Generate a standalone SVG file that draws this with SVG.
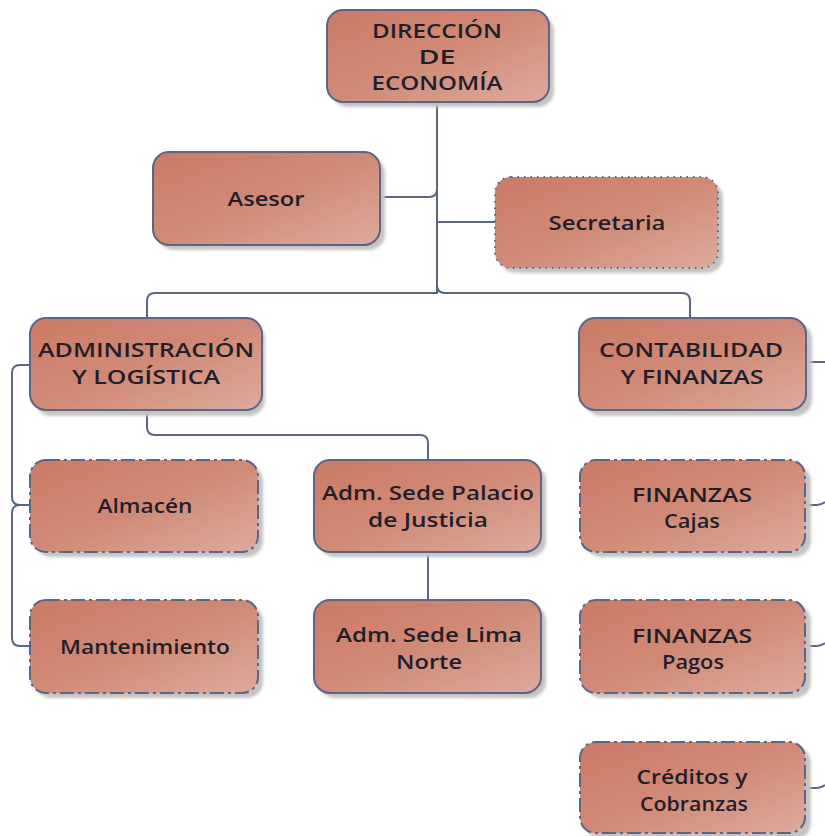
<svg xmlns="http://www.w3.org/2000/svg" width="825" height="836" viewBox="0 0 825 836">
<defs>
<linearGradient id="g" x1="0" y1="0" x2="1" y2="1">
<stop offset="0" stop-color="#cb7a66"/>
<stop offset="0.5" stop-color="#d08a77"/>
<stop offset="1" stop-color="#dcab9e"/>
</linearGradient>
<filter id="blur" x="-10%" y="-10%" width="120%" height="120%"><feGaussianBlur stdDeviation="1.5"/></filter>
<style>
.sh{fill:#c4c4c4;filter:url(#blur)}
.bx{fill:url(#g);stroke:#5b6586;stroke-width:2}
.dot{stroke-dasharray:1.5 5}
.dd{stroke-dasharray:14 4 3 4}
.t{font-family:"Open Sans","Liberation Sans",Arial,sans-serif;font-weight:600;font-size:19px;fill:#1f1f2c;text-anchor:middle}
.c{fill:none;stroke:#5b6586;stroke-width:2}
</style>
</defs>
<rect width="825" height="836" fill="#ffffff"/>
<g id="connectors">
<path class="c" d="M437,102 V293 H155 Q147,293 147,301 V318"/>
<path class="c" d="M437,285 Q437,293 445,293 H682 Q690,293 690,301 V318"/>
<path class="c" d="M380,197 H429 Q437,197 437,189"/>
<path class="c" d="M437,222 H495"/>
<path class="c" d="M30,365 H20 Q12,365 12,373 V497 Q12,505 20,505 H30"/>
<path class="c" d="M20,505 Q12,505 12,513 V638 Q12,646 20,646 H30"/>
<path class="c" d="M147,410 V427 Q147,435 155,435 H420 Q428,435 428,443 V460"/>
<path class="c" d="M428,552 V600"/>
<path class="c" d="M805,362 H825"/>
<path class="c" d="M805,505 H817 Q821,505 825,502"/>
<path class="c" d="M805,646 H817 Q821,646 825,643"/>
<path class="c" d="M805,788 H817 Q821,788 825,785"/>
</g>
<g id="direccion">
<rect class="sh" x="332" y="15" width="222" height="92" rx="16"/>
<rect class="bx" x="327" y="10" width="222" height="92" rx="16"/>
<text class="t" x="437" y="38" textLength="130" lengthAdjust="spacingAndGlyphs">DIRECCIÓN</text>
<text class="t" x="437" y="64" textLength="37" lengthAdjust="spacingAndGlyphs">DE</text>
<text class="t" x="437" y="90" textLength="131" lengthAdjust="spacingAndGlyphs">ECONOMÍA</text>
</g>
<g id="asesor">
<rect class="sh" x="158" y="157" width="227" height="93" rx="16"/>
<rect class="bx" x="153" y="152" width="227" height="93" rx="16"/>
<text class="t" x="266" y="206" textLength="77" lengthAdjust="spacingAndGlyphs">Asesor</text>
</g>
<g id="secretaria">
<rect class="sh" x="500" y="182" width="223" height="91" rx="16"/>
<rect class="bx dot" x="495" y="177" width="223" height="91" rx="16"/>
<text class="t" x="607" y="230" textLength="117" lengthAdjust="spacingAndGlyphs">Secretaria</text>
</g>
<g id="administracion">
<rect class="sh" x="35" y="323" width="230" height="93" rx="16"/>
<rect class="bx" x="30" y="318" width="232" height="92" rx="16"/>
<text class="t" x="146" y="357" textLength="216" lengthAdjust="spacingAndGlyphs">ADMINISTRACIÓN</text>
<text class="t" x="146" y="384" textLength="148" lengthAdjust="spacingAndGlyphs">Y LOGÍSTICA</text>
</g>
<g id="contabilidad">
<rect class="sh" x="585" y="323" width="227" height="93" rx="16"/>
<rect class="bx" x="579" y="318" width="227" height="92" rx="16"/>
<text class="t" x="691" y="357" textLength="184" lengthAdjust="spacingAndGlyphs">CONTABILIDAD</text>
<text class="t" x="692" y="384" textLength="143" lengthAdjust="spacingAndGlyphs">Y FINANZAS</text>
</g>
<g id="almacen">
<rect class="sh" x="35" y="465" width="228" height="92" rx="16"/>
<rect class="bx dd" x="30" y="460" width="228" height="92" rx="16"/>
<text class="t" x="145" y="513" textLength="95" lengthAdjust="spacingAndGlyphs">Almacén</text>
</g>
<g id="mantenimiento">
<rect class="sh" x="35" y="605" width="228" height="93" rx="16"/>
<rect class="bx dd" x="30" y="600" width="228" height="93" rx="16"/>
<text class="t" x="145" y="654" textLength="170" lengthAdjust="spacingAndGlyphs">Mantenimiento</text>
</g>
<g id="palacio">
<rect class="sh" x="319" y="465" width="227" height="92" rx="16"/>
<rect class="bx" x="314" y="460" width="227" height="92" rx="16"/>
<text class="t" x="428" y="500" textLength="212" lengthAdjust="spacingAndGlyphs">Adm. Sede Palacio</text>
<text class="t" x="428" y="527" textLength="120" lengthAdjust="spacingAndGlyphs">de Justicia</text>
</g>
<g id="limanorte">
<rect class="sh" x="319" y="605" width="227" height="93" rx="16"/>
<rect class="bx" x="314" y="600" width="227" height="93" rx="16"/>
<text class="t" x="429" y="642" textLength="186" lengthAdjust="spacingAndGlyphs">Adm. Sede Lima</text>
<text class="t" x="429" y="669" textLength="66" lengthAdjust="spacingAndGlyphs">Norte</text>
</g>
<g id="cajas">
<rect class="sh" x="585" y="465" width="226" height="92" rx="16"/>
<rect class="bx dd" x="580" y="460" width="225" height="92" rx="16"/>
<text class="t" x="692" y="502" textLength="120" lengthAdjust="spacingAndGlyphs">FINANZAS</text>
<text class="t" x="692" y="528" textLength="56" lengthAdjust="spacingAndGlyphs">Cajas</text>
</g>
<g id="pagos">
<rect class="sh" x="585" y="605" width="226" height="93" rx="16"/>
<rect class="bx dd" x="580" y="600" width="225" height="93" rx="16"/>
<text class="t" x="692" y="643" textLength="120" lengthAdjust="spacingAndGlyphs">FINANZAS</text>
<text class="t" x="693" y="669" textLength="62" lengthAdjust="spacingAndGlyphs">Pagos</text>
</g>
<g id="creditos">
<rect class="sh" x="585" y="747" width="226" height="92" rx="16"/>
<rect class="bx dd" x="580" y="742" width="225" height="91" rx="16"/>
<text class="t" x="692" y="784" textLength="111" lengthAdjust="spacingAndGlyphs">Créditos y</text>
<text class="t" x="694" y="811" textLength="108" lengthAdjust="spacingAndGlyphs">Cobranzas</text>
</g>
</svg>
